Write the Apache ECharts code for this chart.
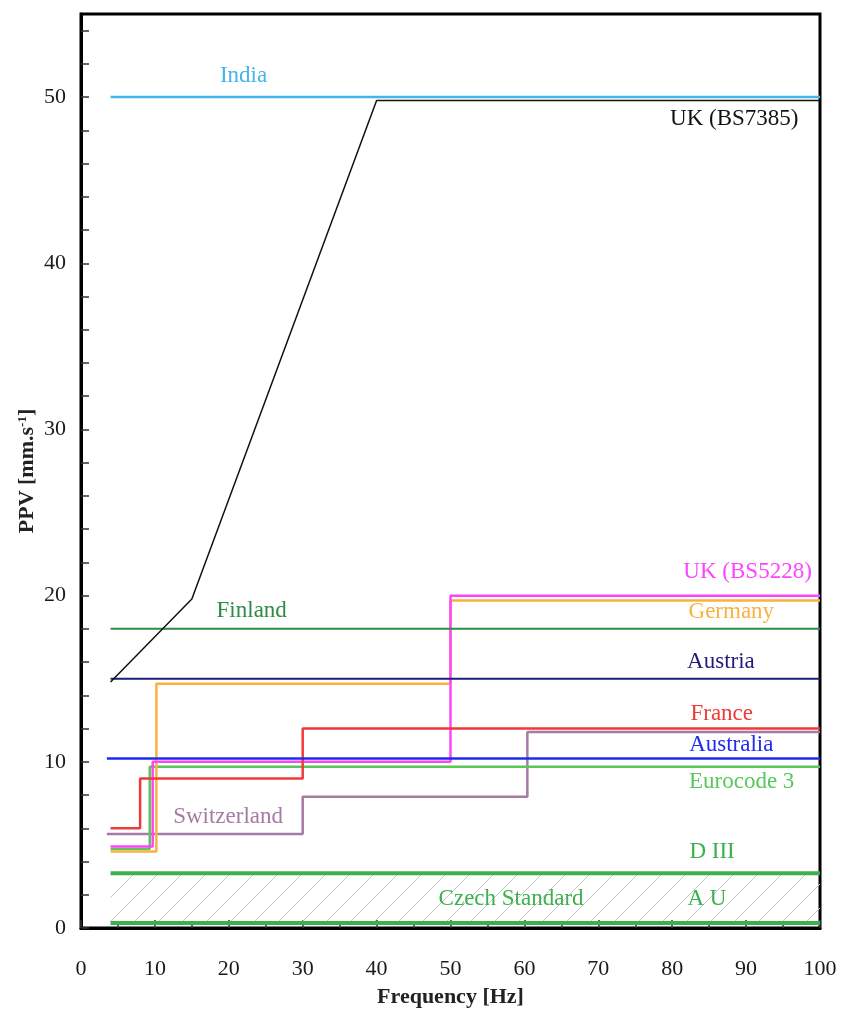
<!DOCTYPE html>
<html>
<head>
<meta charset="utf-8">
<script src="https://cdn.jsdelivr.net/npm/echarts@6/dist/echarts.min.js"></script>
<style>
  html, body { margin: 0; padding: 0; background: #fff; }
  #chart { width: 844px; height: 1024px; }
</style>
</head>
<body>
<div id="chart"></div>
<script>
// PPV limits [mm/s] against frequency [Hz], breakpoints
const india       = [[4, 50], [100, 50]];
const ukBS7385    = [[4, 14.8], [15, 19.8], [40, 49.8], [100, 49.8]];
const ukBS5228    = [[4, 4.9], [9.7, 10], [50, 20], [100, 20]];
const germany     = [[4, 4.6], [10.2, 14.7], [50, 19.7], [100, 19.7]];
const finland     = [[4, 18], [100, 18]];
const austria     = [[4, 15], [100, 15]];
const france      = [[4, 6], [8, 9], [30, 12], [100, 12]];
const australia   = [[3.5, 10.2], [100, 10.2]];
const eurocode3   = [[4, 4.75], [9.3, 9.7], [100, 9.7]];
const switzerland = [[3.5, 5.65], [30, 7.9], [60.4, 11.8], [100, 11.8]];
const czechD3     = [[4, 3.3], [100, 3.3]];
const czechAU     = [[4, 0.3], [100, 0.3]];

// text labels and where they sit (data coordinates)
const labelNames = ['India', 'UK (BS7385)', 'UK (BS5228)', 'Germany', 'Finland', 'Austria',
  'France', 'Australia', 'Eurocode 3', 'Switzerland', 'D III', 'Czech Standard', 'A U'];
const labelX = [22, 88.4, 90.2, 88, 23.1, 86.6, 86.7, 88, 89.4, 19.9, 85.4, 58.2, 84.7];
const labelY = [51.3, 48.7, 21.4, 19.0, 19.1, 16.0, 12.9, 11.0, 8.8, 6.7, 4.6, 1.75, 1.75];

const C = {
  india: '#45b4e8', uk7385: '#111111', uk5228: '#ff44ff', germany: '#fbb040',
  finland: '#2e8b45', austria: '#1c1c7a', france: '#f03a3a', australia: '#1f2bf0',
  eurocode: '#58c858', swiss: '#a77aa6', czech: '#3cb04c'
};
const labelColors = [C.india, C.uk7385, C.uk5228, C.germany, C.finland, C.austria,
  C.france, C.australia, C.eurocode, C.swiss, C.czech, C.czech, C.czech];

const serif = '"Liberation Serif", "DejaVu Serif", serif';

// diagonal hatch tile
function hatchTile() {
  const s = 24;
  const cv = document.createElement('canvas');
  cv.width = s; cv.height = s;
  const ctx = cv.getContext('2d');
  ctx.strokeStyle = '#c8c8c8';
  ctx.lineWidth = 1;
  ctx.beginPath();
  ctx.moveTo(-2, s + 2); ctx.lineTo(s + 2, -2);
  ctx.stroke();
  return cv;
}

function line(name, data, color, width, extra) {
  return Object.assign({
    name: name,
    type: 'line',
    data: data,
    showSymbol: false,
    symbol: 'none',
    silent: true,
    lineStyle: { color: color, width: width },
    itemStyle: { color: color }
  }, extra || {});
}

const chart = echarts.init(document.getElementById('chart'), null, { renderer: 'canvas' });

const option = {
  animation: false,
  backgroundColor: '#fff',
  grid: {
    left: 81, right: 24, top: 14, bottom: 96,
    show: true, borderColor: '#000', borderWidth: 3
  },
  xAxis: {
    type: 'value',
    min: 0, max: 100, interval: 10,
    name: 'Frequency [Hz]',
    nameLocation: 'middle',
    nameGap: 58,
    nameTextStyle: { fontFamily: serif, fontWeight: 'bold', fontSize: 22, color: '#222' },
    axisLine: { show: true, onZero: false, lineStyle: { color: '#000', width: 3 } },
    axisTick: { show: true, inside: true, length: 8, lineStyle: { color: '#333', width: 1.5 } },
    minorTick: { show: true, splitNumber: 2, length: 5, lineStyle: { color: '#333', width: 1.5 } },
    axisLabel: { margin: 30, fontFamily: serif, fontSize: 22, color: '#1a1a1a' },
    splitLine: { show: false }
  },
  yAxis: {
    type: 'value',
    min: 0, max: 55, interval: 2,
    name: 'PPV [mm.s{sup|-1}]',
    nameLocation: 'middle',
    nameGap: 43,
    nameMoveOverlap: false,
    nameTextStyle: {
      fontFamily: serif, fontWeight: 'bold', fontSize: 22, color: '#222',
      rich: { sup: { fontFamily: serif, fontWeight: 'bold', fontSize: 13, color: '#222', verticalAlign: 'top', padding: [0, 0, 8, 0] } }
    },
    axisLine: { show: true, onZero: false, lineStyle: { color: '#000', width: 3 } },
    axisTick: { show: true, inside: true, length: 8, lineStyle: { color: '#333', width: 1.5 } },
    axisLabel: {
      margin: 15, fontFamily: serif, fontSize: 22, color: '#1a1a1a',
      showMaxLabel: false,
      formatter: v => (v % 10 === 0 ? String(v) : '')
    },
    splitLine: { show: false }
  },
  series: [
    line('Czech A U', czechAU, C.czech, 4, {
      markArea: {
        silent: true,
        itemStyle: { color: { image: hatchTile(), repeat: 'repeat' } },
        data: [[{ coord: [czechAU[0][0], czechAU[0][1]] }, { coord: [czechD3[1][0], czechD3[1][1]] }]]
      }
    }),
    line('Czech D III', czechD3, C.czech, 4),
    line('Switzerland', switzerland, C.swiss, 2.5, { step: 'end' }),
    line('Eurocode 3', eurocode3, C.eurocode, 2.5, { step: 'end' }),
    line('Germany', germany, C.germany, 2.5, { step: 'end' }),
    line('UK (BS5228)', ukBS5228, C.uk5228, 2.5, { step: 'end' }),
    line('France', france, C.france, 2.5, { step: 'end' }),
    line('Australia', australia, C.australia, 2.5),
    line('Austria', austria, C.austria, 2),
    line('Finland', finland, C.finland, 2),
    line('India', india, C.india, 2.5),
    line('UK (BS7385)', ukBS7385, C.uk7385, 1.5),
    {
      name: 'labels',
      type: 'scatter',
      symbolSize: 0,
      silent: true,
      z: 5,
      data: labelNames.map((n, i) => ({
        name: n,
        value: [labelX[i], labelY[i]],
        itemStyle: { color: labelColors[i], opacity: 0 },
        label: { color: labelColors[i] }
      })),
      label: {
        show: true,
        position: 'inside',
        formatter: '{b}',
        fontFamily: serif,
        fontSize: 23,
        textBorderWidth: 0,
        textBorderColor: 'transparent',
        opacity: 1
      }
    }
  ]
};

chart.setOption(option);
window.addEventListener('resize', () => chart.resize());
</script>
</body>
</html>
